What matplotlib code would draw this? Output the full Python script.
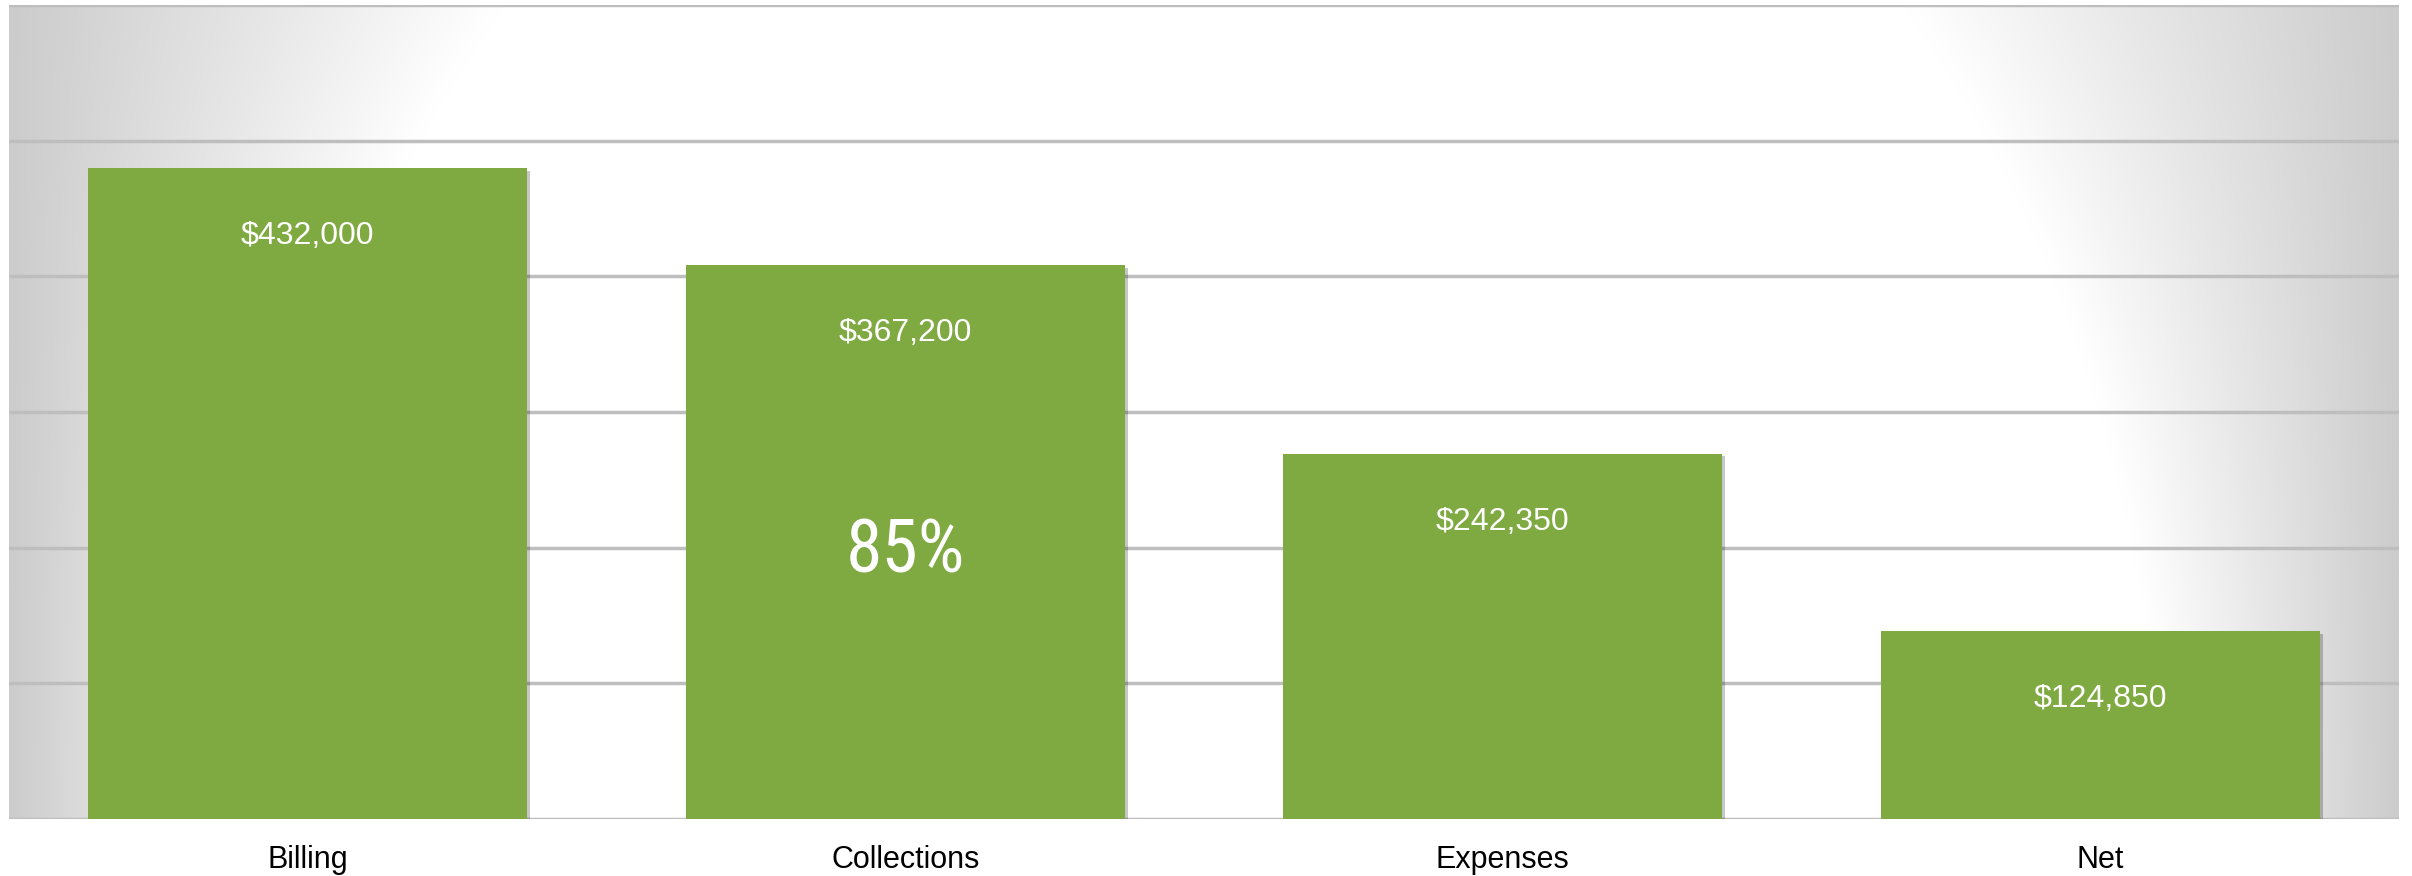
import numpy as np
import matplotlib
matplotlib.use("Agg")
import matplotlib.pyplot as plt
import matplotlib.patheffects as pe
from matplotlib import font_manager

categories = ["Billing", "Collections", "Expenses", "Net"]
values = [432000, 367200, 242350, 124850]
y_ticks = [0, 90000, 180000, 270000, 360000, 450000, 540000]

names = {f.name for f in font_manager.fontManager.ttflist}
narrow = None
for cand in ["Liberation Sans Narrow", "Arial Narrow", "DejaVu Sans Condensed",
             "Roboto Condensed", "Open Sans Condensed"]:
    if cand in names:
        narrow = cand
        break
pct_font = narrow if narrow else "Liberation Sans"
pct_size = 53 if narrow else 46

W, H, DPI = 2412, 876, 100
fig = plt.figure(figsize=(W / DPI, H / DPI), dpi=DPI)
fig.patch.set_facecolor("white")
top_px, bot_px = 5, 819
ax = fig.add_axes([9 / W, 1 - bot_px / H, (2399 - 9) / W, (bot_px - top_px) / H])

# background gradient (white centre, grey sides)
nx, ny = 800, 300
xs = np.linspace(-1195, 1195, nx)
ys = np.linspace(top_px, bot_px, ny)
X, Y = np.meshgrid(xs, ys)
a, b, cy = 960.0, 1240.0, 850.0
wy = a * np.sqrt(np.clip(1 - ((cy - Y) / b) ** 2, 0, 1))
t = np.clip((np.abs(X) - wy) / (1195 - wy), 0, 1)
g = 1 - t * (1 - 0.80)
img = np.dstack([g, g, g])
ax.imshow(img, extent=[0, 1, 0, 1], transform=ax.transAxes, aspect="auto",
          zorder=0, interpolation="bilinear")

x = np.arange(len(categories))
ax.set_xlim(-0.5, len(categories) - 0.5)
ax.set_ylim(y_ticks[0], y_ticks[-1])

for yt in y_ticks:
    ax.axhline(yt, color="#bebebe", lw=2.5, zorder=1)

bars = ax.bar(x, values, width=0.735, color="#7FAA42", zorder=2)
for bar in bars:
    bar.set_path_effects([pe.SimplePatchShadow(offset=(2, -2), shadow_rgbFace="#000000", alpha=0.22),
                          pe.Normal()])

for xi, v in zip(x, values):
    ax.annotate(f"${v:,.0f}", xy=(xi, v), xytext=(0, -68), textcoords="offset pixels",
                ha="center", va="center", color="white", fontsize=23,
                family=["Liberation Sans", "DejaVu Sans"], zorder=3)

pct = values[1] / values[0] * 100
ax.annotate(f"{pct:.0f}%", xy=(x[1], values[1] / 2), xytext=(0, -10), textcoords="offset pixels",
            ha="center", va="center", color="white",
            fontsize=pct_size, family=[pct_font, "DejaVu Sans"], zorder=3)

ax.set_xticks(x)
ax.set_xticklabels(categories, fontsize=22, family=["Liberation Sans", "DejaVu Sans"], color="black")
ax.tick_params(axis="x", length=0, pad=19)
ax.set_yticks([])
for s in ax.spines.values():
    s.set_visible(False)

fig.savefig("out.png", dpi=DPI, facecolor="white")
